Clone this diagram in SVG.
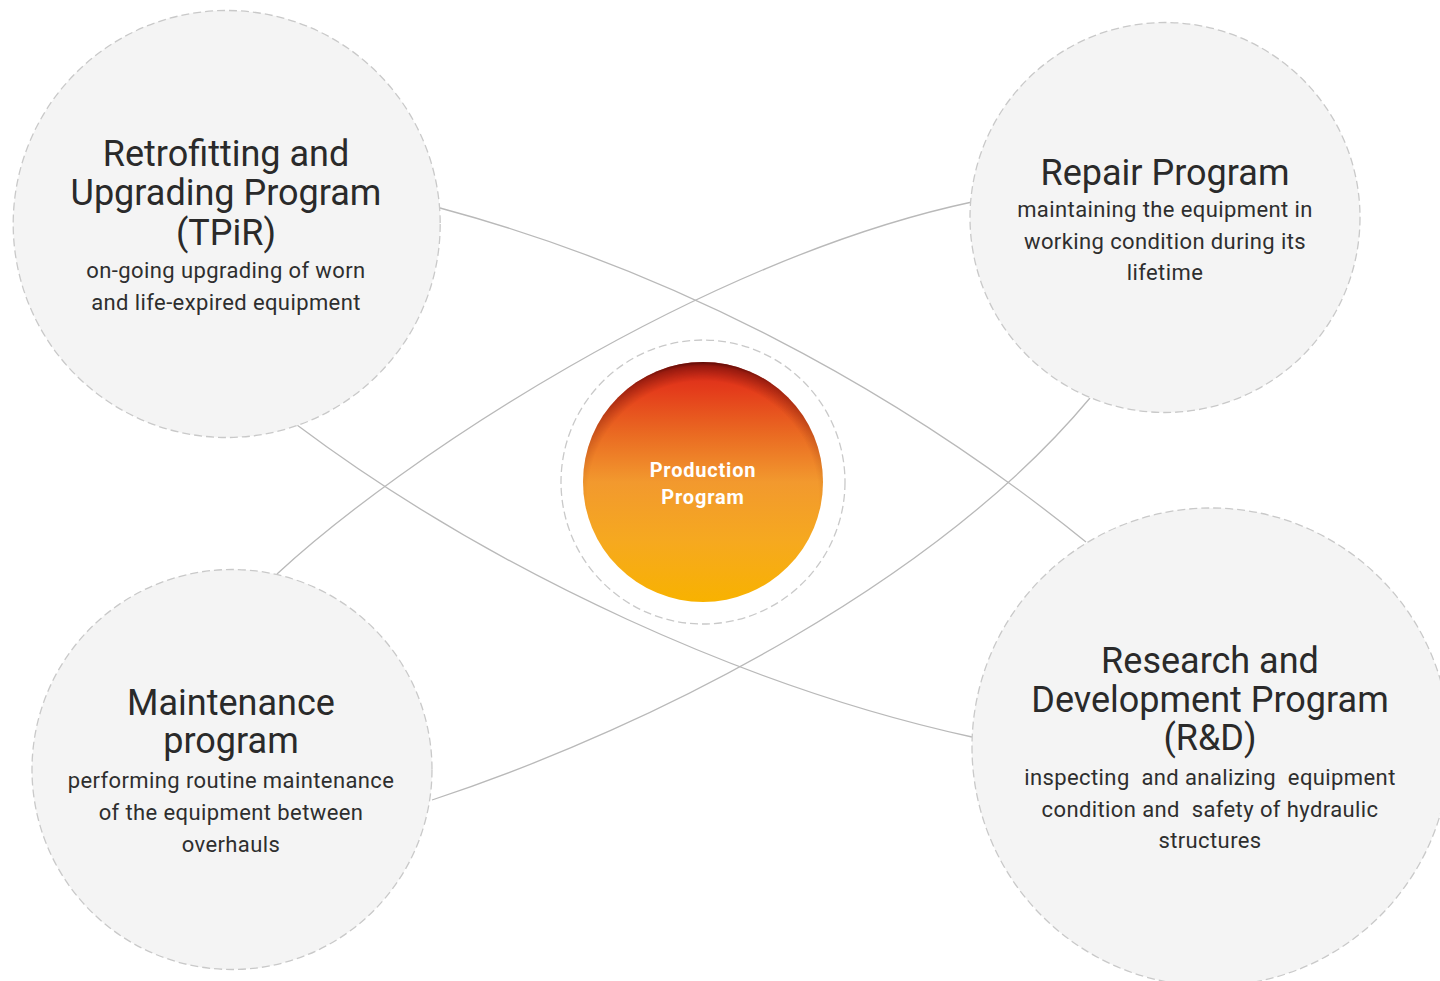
<svg xmlns="http://www.w3.org/2000/svg" width="1440" height="981" viewBox="0 0 1440 981">
<defs>
<linearGradient id="core" x1="0" y1="0" x2="0" y2="1">
<stop offset="0" stop-color="#d8261a"/>
<stop offset="0.12" stop-color="#e43d1b"/>
<stop offset="0.3" stop-color="#ea6a22"/>
<stop offset="0.5" stop-color="#f2992e"/>
<stop offset="0.75" stop-color="#f6a91f"/>
<stop offset="1" stop-color="#f8b200"/>
</linearGradient>
<radialGradient id="shade" cx="0.5" cy="0.56" r="0.56">
<stop offset="0.86" stop-color="#5a0a05" stop-opacity="0"/>
<stop offset="0.97" stop-color="#5a0a05" stop-opacity="0.55"/>
<stop offset="1" stop-color="#3a0502" stop-opacity="0.8"/>
</radialGradient>
<linearGradient id="shadeMask" x1="0" y1="0" x2="0" y2="1">
<stop offset="0" stop-color="#fff"/>
<stop offset="0.45" stop-color="#fff" stop-opacity="0.35"/>
<stop offset="0.7" stop-color="#fff" stop-opacity="0"/>
</linearGradient>
<mask id="topMask"><rect x="583" y="362" width="240" height="240" fill="url(#shadeMask)"/></mask>
<style>
.node{fill:#f4f4f4;stroke:#c9c9c9;stroke-width:1.3;stroke-dasharray:8 4}
.ring{fill:#ffffff;stroke:#c9c9c9;stroke-width:1.3;stroke-dasharray:8 4}
.conn{fill:none;stroke:#b9b9b9;stroke-width:1.3}
.t{font-family:Roboto,"Noto Sans",sans-serif;font-size:36px;fill:#2a2a2a;text-anchor:middle}
.s{font-family:Roboto,"Noto Sans",sans-serif;font-size:22px;letter-spacing:0.4px;fill:#2e2e2e;text-anchor:middle;white-space:pre}
.c{font-family:Roboto,"Noto Sans",sans-serif;font-size:20px;letter-spacing:0.8px;font-weight:bold;fill:#ffffff;text-anchor:middle}
</style>
</defs>
<rect width="1440" height="981" fill="#ffffff"/>
<g id="connectors">
<path class="conn" d="M440,208 C660,267 886,380 1086,542"/>
<path class="conn" d="M297,425 C497,575 752,689 972,737"/>
<path class="conn" d="M277,574 C400,460 700,260 972,202"/>
<path class="conn" d="M432,800 C662,724 940,578 1090,398"/>
</g>
<g id="node-retrofitting">
<circle class="node" cx="226.7" cy="224" r="213.5"/>
<text class="t" x="226" y="166">Retrofitting and</text>
<text class="t" x="226" y="205">Upgrading Program</text>
<text class="t" x="226" y="245">(TPiR)</text>
<text class="s" x="226" y="278">on-going upgrading of worn</text>
<text class="s" x="226" y="310">and life-expired equipment</text>
</g>
<g id="node-repair">
<circle class="node" cx="1165" cy="217.5" r="195"/>
<text class="t" x="1165" y="185">Repair Program</text>
<text class="s" x="1165" y="217">maintaining the equipment in</text>
<text class="s" x="1165" y="249">working condition during its</text>
<text class="s" x="1165" y="280">lifetime</text>
</g>
<g id="node-maintenance">
<circle class="node" cx="232" cy="769.5" r="200"/>
<text class="t" x="231" y="715">Maintenance</text>
<text class="t" x="231" y="753">program</text>
<text class="s" x="231" y="788">performing routine maintenance</text>
<text class="s" x="231" y="820">of the equipment between</text>
<text class="s" x="231" y="852">overhauls</text>
</g>
<g id="node-research">
<circle class="node" cx="1211" cy="747" r="239"/>
<text class="t" x="1210" y="673">Research and</text>
<text class="t" x="1210" y="712">Development Program</text>
<text class="t" x="1210" y="750">(R&amp;D)</text>
<text class="s" x="1210" y="785" xml:space="preserve">inspecting  and analizing  equipment</text>
<text class="s" x="1210" y="817" xml:space="preserve">condition and  safety of hydraulic</text>
<text class="s" x="1210" y="848">structures</text>
</g>
<g id="node-production">
<circle class="ring" cx="703" cy="482" r="142"/>
<circle cx="703" cy="482" r="120" fill="url(#core)"/>
<circle cx="703" cy="482" r="120" fill="url(#shade)" mask="url(#topMask)"/>
<text class="c" x="703" y="477">Production</text>
<text class="c" x="703" y="504">Program</text>
</g>
</svg>
